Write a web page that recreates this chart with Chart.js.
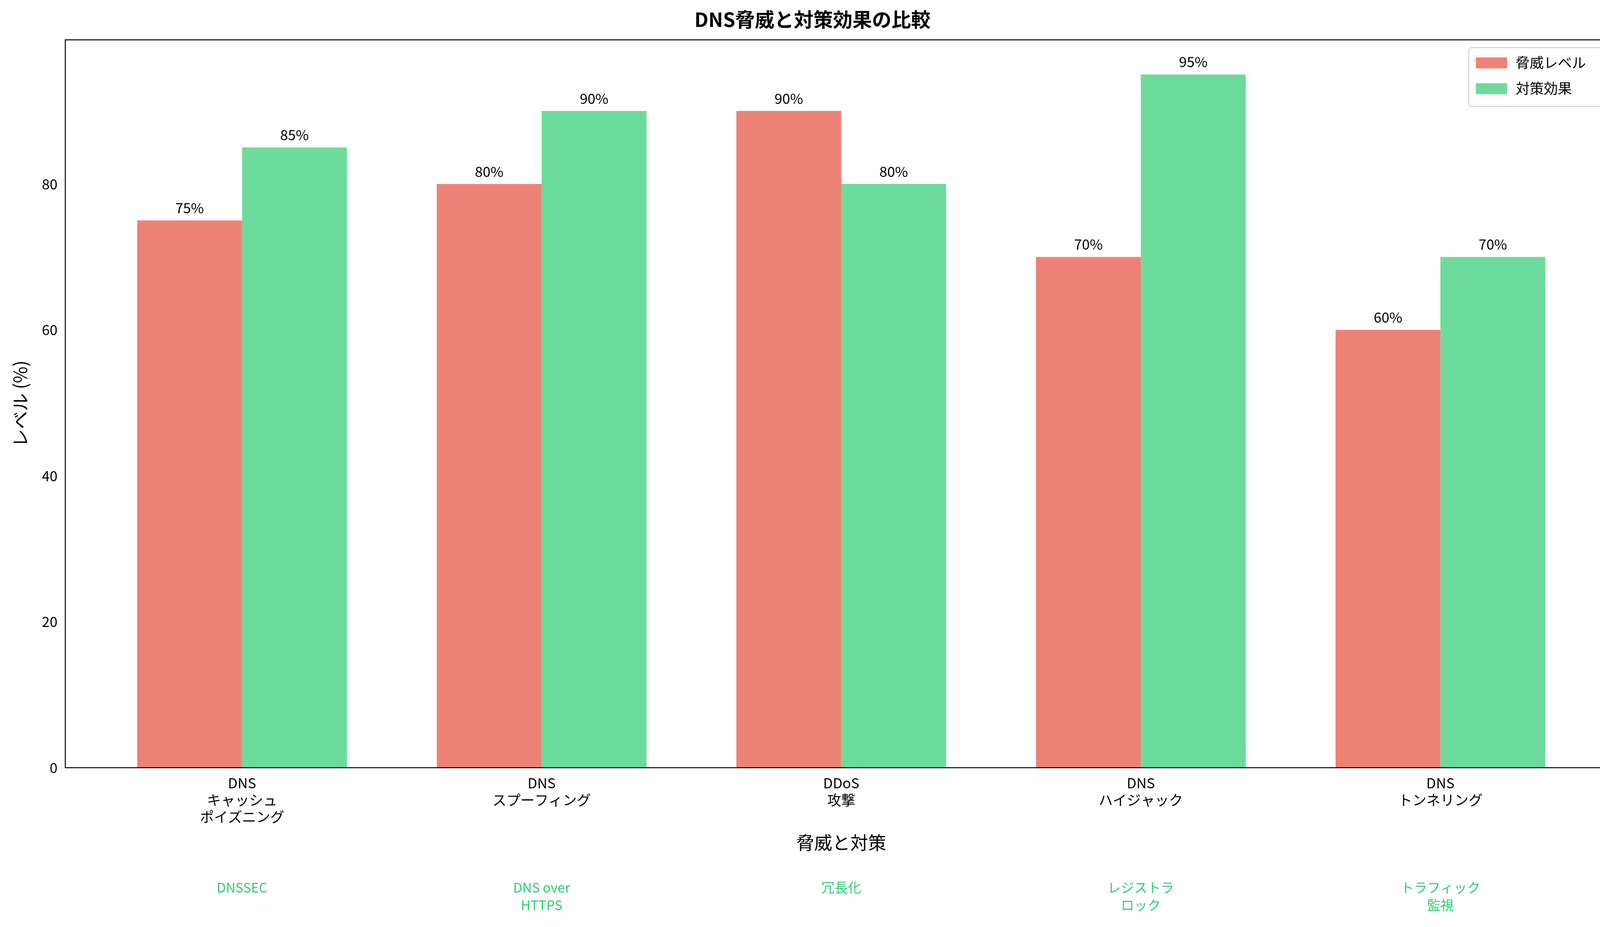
<!DOCTYPE html>
<html><head><meta charset="utf-8">
<script src="https://cdn.jsdelivr.net/npm/chart.js@4"></script>
<style>html,body{margin:0;padding:0;background:#fff}#w{width:4168px;height:2373px}</style>
</head><body><div id="w"><canvas id="c"></canvas></div>
<script>
const categories = [["DNS","キャッシュ","ポイズニング"],["DNS","スプーフィング"],["DDoS","攻撃"],["DNS","ハイジャック"],["DNS","トンネリング"]];
const countermeasures = [["DNSSEC"],["DNS over","HTTPS"],["冗長化"],["レジストラ","ロック"],["トラフィック","監視"]];
const threatLevel = [75,80,90,70,60];
const effectLevel = [85,90,80,95,70];
const seriesNames = ["脅威レベル","対策効果"];
const yTicks = [0,20,40,60,80];
const F = "'Noto Sans CJK JP','DejaVu Sans',sans-serif";
const RED = "rgba(231,76,60,0.7)", GREEN = "rgba(46,204,113,0.7)";

const extras = {
  id:'extras',
  afterDatasetsDraw(ch){
    const ctx=ch.ctx, x=ch.scales.x, y=ch.scales.y, a=ch.chartArea;
    ctx.save();
    ctx.fillStyle='#000'; ctx.font='36px '+F; ctx.textAlign='center'; ctx.textBaseline='bottom';
    ch.data.datasets.forEach((ds,di)=>{
      ch.getDatasetMeta(di).data.forEach((b,i)=>{ ctx.fillText(ds.data[i].y+'%', b.x, b.y-14); });
    });
    // frame
    ctx.strokeStyle='#000'; ctx.lineWidth=2.5;
    ctx.strokeRect(a.left,a.top,a.right-a.left,a.bottom-a.top);
    // countermeasure labels
    ctx.fillStyle='#2ecc71'; ctx.font='34px '+F; ctx.textBaseline='top';
    countermeasures.forEach((l,i)=>{ l.forEach((t,j)=>ctx.fillText(t, x.getPixelForValue(i), 2255+j*45)); });
    // legend
    const lx=a.right-380, ly=a.top+20, w=360, h=150;
    ctx.fillStyle='rgba(255,255,255,0.8)'; ctx.strokeStyle='#ccc'; ctx.lineWidth=2;
    ctx.beginPath(); ctx.roundRect(lx,ly,w,h,8); ctx.fill(); ctx.stroke();
    ctx.textAlign='left'; ctx.textBaseline='middle'; ctx.font='36px '+F;
    [RED,GREEN].forEach((c,i)=>{
      const yy=ly+38+i*66;
      ctx.fillStyle=c; ctx.fillRect(lx+18,yy-13,80,28);
      ctx.fillStyle='#000'; ctx.fillText(seriesNames[i], lx+120, yy);
    });
    ctx.restore();
  }
};

new Chart(document.getElementById('c'),{
  type:'bar',
  data:{datasets:[
    {label:seriesNames[0],data:threatLevel.map((v,i)=>({x:i,y:v})),backgroundColor:RED,categoryPercentage:0.7,barPercentage:1},
    {label:seriesNames[1],data:effectLevel.map((v,i)=>({x:i,y:v})),backgroundColor:GREEN,categoryPercentage:0.7,barPercentage:1}
  ]},
  plugins:[extras],
  options:{
    responsive:true,maintainAspectRatio:false,animation:false,
    layout:{padding:{top:10,right:28,bottom:185,left:20}},
    plugins:{legend:{display:false},tooltip:{enabled:false},
      title:{display:true,text:'DNS脅威と対策効果の比較',font:{family:F,size:50},color:'#000',padding:{top:10,bottom:22}}},
    scales:{
      x:{type:'linear',min:-0.59,max:4.59,offset:false,
        afterBuildTicks(s){s.ticks=[0,1,2,3,4].map(v=>({value:v}));},
        grid:{display:false,drawTicks:true,tickLength:12,tickColor:'#000'},border:{display:false},
        ticks:{autoSkip:false,maxRotation:0,color:'#000',font:{family:F,size:36},padding:6,callback:(v)=>categories[v]},
        title:{display:true,text:'脅威と対策',font:{family:F,size:46},color:'#000',padding:{top:10}}},
      y:{min:0,max:99.75,
        afterBuildTicks(s){s.ticks=yTicks.map(v=>({value:v}));},
        grid:{display:false,drawTicks:true,tickLength:12,tickColor:'#000'},border:{display:false},
        ticks:{color:'#000',font:{family:F,size:36},padding:8},
        title:{display:true,text:'レベル (%)',font:{family:F,size:46},color:'#000',padding:{bottom:20}}}
    }
  }
});
</script></body></html>
